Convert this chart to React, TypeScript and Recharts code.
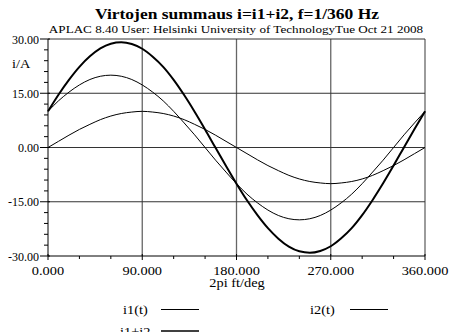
import React from 'react';
import { LineChart, Line, XAxis, YAxis, ReferenceLine } from 'recharts';

const degrees = [0, 10, 20, 30, 40, 50, 60, 70, 80, 90, 100, 110, 120, 130, 140, 150, 160, 170, 180, 190, 200, 210, 220, 230, 240, 250, 260, 270, 280, 290, 300, 310, 320, 330, 340, 350, 360];
const i1Values = [0, 1.7, 3.4, 5.0, 6.4, 7.7, 8.7, 9.4, 9.8, 10, 9.8, 9.4, 8.7, 7.7, 6.4, 5.0, 3.4, 1.7, 0, -1.7, -3.4, -5.0, -6.4, -7.7, -8.7, -9.4, -9.8, -10, -9.8, -9.4, -8.7, -7.7, -6.4, -5.0, -3.4, -1.7, 0];
const i2Values = [10, 12.9, 15.3, 17.3, 18.8, 19.7, 20, 19.7, 18.8, 17.3, 15.3, 12.9, 10, 6.8, 3.5, 0, -3.5, -6.8, -10, -12.9, -15.3, -17.3, -18.8, -19.7, -20, -19.7, -18.8, -17.3, -15.3, -12.9, -10, -6.8, -3.5, 0, 3.5, 6.8, 10];
const sumValues = [10, 14.6, 18.7, 22.3, 25.2, 27.4, 28.7, 29.1, 28.6, 27.3, 25.1, 22.3, 18.7, 14.5, 9.9, 5.0, -0.1, -5.1, -10, -14.6, -18.7, -22.3, -25.2, -27.4, -28.7, -29.1, -28.6, -27.3, -25.1, -22.3, -18.7, -14.5, -9.9, -5.0, 0.1, 5.1, 10];

const xTicks = [0, 30, 60, 90, 120, 150, 180, 210, 240, 270, 300, 330, 360];
const xMajor = [0, 90, 180, 270, 360];
const yTicks = [-30, -27, -24, -21, -18, -15, -12, -9, -6, -3, 0, 3, 6, 9, 12, 15, 18, 21, 24, 27, 30];
const yMajor = [-30, -15, 0, 15, 30];
const xGrid = [90, 180, 270, 360];
const yGrid = [-15, 0, 15, 30];

const title = 'Virtojen summaus i=i1+i2, f=1/360 Hz';
const subtitle = 'APLAC 8.40 User: Helsinki University of TechnologyTue Oct 21 2008';
const yLabel = 'i/A';
const xLabel = '2pi ft/deg';
const legendNames = ['i1(t)', 'i2(t)', 'i1+i2'];

const data = degrees.map((d, i) => ({ deg: d, i1: i1Values[i], i2: i2Values[i], sum: sumValues[i] }));

const FONT = "'Liberation Serif', Tinos, 'Times New Roman', 'DejaVu Serif', serif";
const SX = 1.25;

const XTick = (props: any) => {
  const { x, y, payload } = props;
  const major = xMajor.includes(payload.value);
  return (
    <g>
      <line x1={x} x2={x} y1={major ? y - 2 : y} y2={y + (major ? 4 : 3)} stroke="#000" strokeWidth={1} />
      {major && (
        <text transform={`translate(${x},${y + 18.5}) scale(${SX},1)`} textAnchor="middle" fontSize={11.5} fontFamily={FONT} fill="#000">
          {payload.value.toFixed(3)}
        </text>
      )}
    </g>
  );
};

const YTick = (props: any) => {
  const { x, y, payload } = props;
  const major = yMajor.includes(payload.value);
  return (
    <g>
      <line x1={major ? x - 8 : x - 4} x2={major ? x + 2 : x} y1={y} y2={y} stroke="#000" strokeWidth={1} />
      {major && (
        <text x={x - 9} y={y + 4.5} textAnchor="end" fontSize={12} fontFamily={FONT} fill="#000">
          {payload.value.toFixed(2)}
        </text>
      )}
    </g>
  );
};

const T = ({ x, y, size, anchor, bold, children }: any) => (
  <text
    transform={`translate(${x},${y}) scale(${SX},1)`}
    textAnchor={anchor || 'start'}
    fontSize={size}
    fontWeight={bold ? 'bold' : 'normal'}
    fontFamily={FONT}
    fill="#000"
  >
    {children}
  </text>
);

export default function App() {
  return (
    <div style={{ position: 'absolute', left: 0, top: 0, width: 449, height: 332, background: '#fff', overflow: 'hidden' }}>
      <LineChart width={449} height={332} data={data} margin={{ top: 39, right: 24, bottom: 46, left: 0 }}>
        <XAxis
          dataKey="deg"
          type="number"
          domain={[0, 360]}
          ticks={xTicks}
          interval={0}
          tickSize={0}
          tickMargin={0}
          tickLine={false}
          tick={<XTick />}
          axisLine={{ stroke: '#000' }}
          height={30}
        />
        <YAxis
          type="number"
          domain={[-30, 30]}
          ticks={yTicks}
          interval={0}
          tickSize={0}
          tickMargin={0}
          tickLine={false}
          tick={<YTick />}
          axisLine={{ stroke: '#000' }}
          width={48}
        />
        {xGrid.map((v) => (
          <ReferenceLine key={'vx' + v} x={v} stroke="#666" strokeWidth={1.3} />
        ))}
        {yGrid.map((v) => (
          <ReferenceLine key={'hy' + v} y={v} stroke="#333" strokeWidth={1} />
        ))}
        <Line type="monotone" dataKey="i1" stroke="#000" strokeWidth={1} dot={false} isAnimationActive={false} />
        <Line type="monotone" dataKey="i2" stroke="#000" strokeWidth={1} dot={false} isAnimationActive={false} />
        <Line type="monotone" dataKey="sum" stroke="#000" strokeWidth={2} dot={false} isAnimationActive={false} />
      </LineChart>
      <svg width={449} height={332} style={{ position: 'absolute', left: 0, top: 0, pointerEvents: 'none' }}>
        <T x={237} y={18.5} size={14} anchor="middle" bold>{title}</T>
        <T x={236} y={33} size={10.5} anchor="middle">{subtitle}</T>
        <T x={12} y={68} size={11.5}>{yLabel}</T>
        <T x={237} y={287} size={11.5} anchor="middle">{xLabel}</T>
        <T x={123} y={313.5} size={11.5}>{legendNames[0]}</T>
        <line x1={161} x2={199} y1={309.5} y2={309.5} stroke="#000" strokeWidth={1} />
        <T x={310} y={313.5} size={11.5}>{legendNames[1]}</T>
        <line x1={350} x2={388} y1={309.5} y2={309.5} stroke="#000" strokeWidth={1} />
        <T x={120} y={335.5} size={11.5}>{legendNames[2]}</T>
        <line x1={161} x2={199} y1={331} y2={331} stroke="#000" strokeWidth={1.5} />
      </svg>
    </div>
  );
}
